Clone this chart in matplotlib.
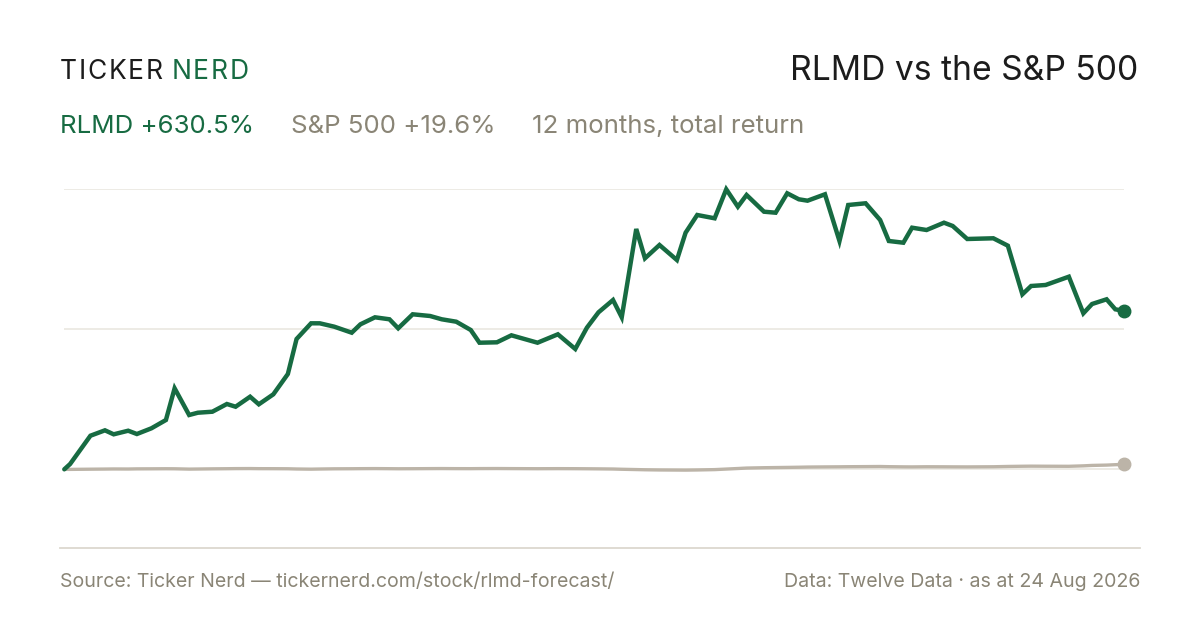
import matplotlib.pyplot as plt
from matplotlib.lines import Line2D

plt.rcParams['font.family'] = ['Inter', 'DejaVu Sans']

# ---- data ----
# days since start of the 12-month window
days = [0, 2, 9, 14, 17, 22, 25, 30, 35, 38,
        43, 46, 51, 56, 59, 64, 67, 72, 77, 80,
        85, 88, 93, 99, 102, 107, 112, 115, 120, 126,
        130, 135, 140, 143, 149, 154, 163, 170, 176, 180,
        184, 189, 192, 197, 200, 205, 211, 214, 218, 224,
        228, 232, 235, 241, 245, 249, 253, 256, 262, 267,
        270, 276, 281, 284, 289, 292, 297, 303, 306, 311,
        320, 325, 330, 333, 338, 346, 351, 354, 359, 362, 365]

# cumulative total return, %
rlmd = [0, 21.1, 133.8, 155.3, 139.4, 153.7, 140.6, 163.3, 196.4, 322.6,
        216.3, 225.4, 229.4, 260.1, 249.3, 289.2, 258.9, 298.7, 379.6, 519.0,
        581.5, 581.5, 568.0, 544.1, 577.5, 605.4, 597.5, 561.6, 617.4, 610.6,
        597.5, 587.9, 554.8, 504.2, 505.8, 533.7, 504.2, 537.7, 479.2, 564.0,
        625.3, 674.3, 605.4, 957.1, 840.4, 893.4, 833.6, 942.4, 1012.9, 999.7,
        1115.2, 1045.9, 1092.5, 1026.0, 1022.0, 1099.3, 1075.4, 1069.8, 1095.3, 909.3,
        1052.7, 1059.5, 993.0, 909.3, 902.5, 962.3, 953.1, 982.2, 969.1, 917.3,
        920.1, 890.6, 697.0, 730.1, 734.1, 767.1, 621.3, 658.4, 677.1, 637.3, 630.5]

spx = [0, -0.3, 0.5, 1.0, 1.4, 1.2, 1.8, 2.0, 2.3, 2.1,
       0.8, 1.2, 1.9, 2.4, 2.8, 3.0, 2.6, 2.5, 2.2, 1.3,
       0.6, 1.2, 2.0, 2.3, 2.6, 2.9, 2.5, 2.2, 2.4, 2.8,
       3.0, 2.7, 2.6, 2.9, 3.1, 2.8, 2.4, 2.7, 2.5, 2.2,
       1.8, 1.2, 0.2, -1.0, -1.8, -2.6, -3.0, -3.2, -2.6, -1.2,
       1.0, 3.2, 5.0, 6.4, 7.0, 7.6, 8.3, 9.0, 9.6, 10.0,
       10.4, 10.8, 11.2, 10.5, 9.8, 9.6, 10.2, 10.0, 9.8, 9.6,
       10.2, 11.4, 12.2, 12.6, 12.3, 12.0, 13.8, 15.5, 16.8, 18.4, 19.6]

ticker = "RLMD"
bench = "S&P 500"

# ---- colours ----
GREEN = "#176b42"
GREY_LINE = "#bcb4a8"
GREY_TEXT = "#8a8576"
GRID = "#ece9e3"
DARK = "#1c1c1c"

W, H = 1200, 630
fig = plt.figure(figsize=(12, 6.3), dpi=100)
fig.patch.set_facecolor("white")


def fxy(x, y):
    # pixel (from top-left) -> figure fraction
    return x / W, 1 - y / H


# ---- plot area ----
peak = max(rlmd)
ax = fig.add_axes([64.3 / W, (H - 548) / H, (1124 - 64.3) / W, (548 - 189.3) / H])
ax.set_xlim(days[0], days[-1])
ax.set_ylim(-peak * 0.281, peak)
for v in (0, peak / 2, peak):
    ax.axhline(v, color=GRID, lw=1.3, zorder=0)

ax.plot(days, spx, color=GREY_LINE, lw=2.4, clip_on=False,
        solid_joinstyle="round", solid_capstyle="round", zorder=2)
ax.plot(days, rlmd, color=GREEN, lw=3.2, clip_on=False,
        solid_joinstyle="miter", solid_capstyle="round", zorder=3)
ax.plot(days[-1], spx[-1], "o", ms=9, color=GREY_LINE, clip_on=False, zorder=4)
ax.plot(days[-1], rlmd[-1], "o", ms=9, color=GREEN, clip_on=False, zorder=4)
ax.axis("off")

# bottom rule
fig.add_artist(Line2D([60 / W, 1140 / W], [(H - 548) / H] * 2,
                      color="#dcd8cf", lw=1.3))

r = fig.canvas.get_renderer()


def tracked(x, y, s, track, **kw):
    for ch in s:
        t = fig.text(*fxy(x, y), ch, va="baseline", **kw)
        x += t.get_window_extent(r).width + track
    return x


# ---- header ----
x = tracked(60, 79, "TICKER", 1.7, fontsize=19, color=DARK)
tracked(x + 7, 79, "NERD", 1.7, fontsize=19, color=GREEN)

fig.text(*fxy(1138, 80), f"{ticker} vs the {bench}", ha="right", va="baseline",
         fontsize=24.2, color=DARK)

parts = [(f"{ticker} +{rlmd[-1]:.1f}%", GREEN),
         (f"{bench} +{spx[-1]:.1f}%", GREY_TEXT),
         ("12 months, total return", GREY_TEXT)]
x = 60
for s, c in parts:
    t = fig.text(*fxy(x, 133), s, va="baseline", fontsize=18.6, color=c)
    x += t.get_window_extent(r).width + 37

# ---- footer ----
fig.text(*fxy(60, 587), "Source: Ticker Nerd \u2014 tickernerd.com/stock/rlmd-forecast/",
         va="baseline", fontsize=14.1, color=GREY_TEXT)
fig.text(*fxy(1140, 587), "Data: Twelve Data \u00b7 as at 24 Aug 2026",
         ha="right", va="baseline", fontsize=14.1, color=GREY_TEXT)

fig.savefig("out.png", dpi=100)
